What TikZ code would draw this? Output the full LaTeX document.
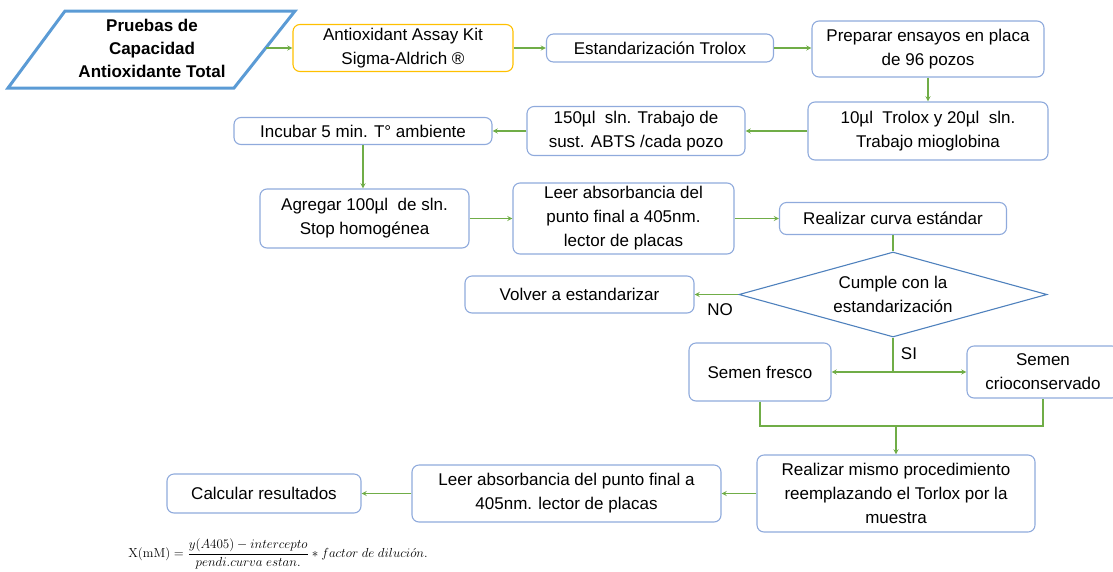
\documentclass[tikz,border=0pt]{standalone}
\usepackage{amsmath}
\usepackage[no-math]{fontspec}
\setmainfont{Liberation Sans}
\usetikzlibrary{shapes.geometric}
\definecolor{bordeazul}{RGB}{143,170,220}
\definecolor{rombazul}{RGB}{79,129,189}
\definecolor{verde}{RGB}{112,173,71}
\definecolor{amarillo}{RGB}{255,192,0}
\definecolor{titazul}{RGB}{91,155,213}

\begin{document}
\begin{tikzpicture}[>=stealth,x=1pt,y=-1pt,font=\fontsize{17}{24}\selectfont,
    caja/.style={draw=bordeazul,line width=1.1pt,rounded corners=7pt,align=center,inner sep=2pt},
    rombo/.style={diamond,draw=rombazul,line width=1.1pt,aspect=3.6,minimum width=308pt,minimum height=85pt,inner sep=0pt,align=center},
    flecha/.style={->,draw=verde,line width=1.3pt},
    linea/.style={draw=verde,line width=1.3pt}]
    \useasboundingbox (0,0) rectangle (1113,571);
    % titulo
    \draw[draw=titazul,line width=3pt] (65,11) -- (295,11) -- (234,88) -- (8,88) -- cycle;
    \node[font=\fontsize{17}{23}\selectfont\bfseries,align=center] (titulo) at (152,48) {Pruebas de\\Capacidad\\Antioxidante Total};
    \coordinate (tituloder) at (266,48);
    % cajas
    \node[caja,draw=amarillo,minimum width=220pt,minimum height=47pt] (kit) at (403,48) {Antioxidant Assay Kit\\Sigma-Aldrich ®};
    \node[caja,minimum width=227pt,minimum height=28pt] (estand) at (660,48) {Estandarización Trolox};
    \node[caja,minimum width=232pt,minimum height=56pt] (preparar) at (928,49) {Preparar ensayos en placa\\de 96 pozos};
    \node[caja,minimum width=240pt,minimum height=58pt] (trolox) at (928,131) {10µl~ Trolox y 20µl~ sln.\\Trabajo mioglobina};
    \node[caja,minimum width=218pt,minimum height=49pt] (abts) at (636,131) {150µl~ sln. Trabajo de\\sust. ABTS /cada pozo};
    \node[caja,minimum width=258pt,minimum height=27pt] (incubar) at (363,131) {Incubar 5 min. T° ambiente};
    \node[caja,minimum width=209pt,minimum height=59pt] (agregar) at (364.5,218.5) {Agregar 100µl~ de sln.\\Stop homogénea};
    \node[caja,minimum width=221pt,minimum height=71pt] (leer1) at (623.5,218.5) {Leer absorbancia del\\punto final a 405nm.\\lector de placas};
    \node[caja,minimum width=227pt,minimum height=32pt] (curva) at (893,218.5) {Realizar curva estándar};
    \node[rombo] (cumple) at (893,294.5) {Cumple con la\\estandarización};
    \node[caja,minimum width=229pt,minimum height=37pt] (volver) at (579.5,294.5) {Volver a estandarizar};
    \node[caja,minimum width=142pt,minimum height=58pt] (fresco) at (760,372) {Semen fresco};
    \node[caja,minimum width=152pt,minimum height=52pt] (crio) at (1043,372) {Semen\\crioconservado};
    \node[caja,minimum width=278pt,minimum height=77pt] (realizar) at (896,493.5) {Realizar mismo procedimiento\\reemplazando el Torlox por la\\muestra};
    \node[caja,minimum width=309pt,minimum height=57pt] (leer2) at (566.5,493.5) {Leer absorbancia del punto final a\\405nm. lector de placas};
    \node[caja,minimum width=194pt,minimum height=39pt] (calcular) at (264,493.5) {Calcular resultados};
    \node (no) at (720,310) {NO};
    \node (si) at (909,354) {SI};
    \node[font=\fontsize{12}{14}\selectfont,scale=1.09] (formula) at (278,554)
        {$\displaystyle\mathrm{X(mM)}=\frac{y(A405)-intercepto}{pendi.curva\ estan.}*factor\ de\ diluci\acute{o}n.$};
    % flechas
    \draw[flecha] (tituloder) -- (kit.west);
    \foreach \a/\b in {kit/estand,estand/preparar,agregar/leer1,leer1/curva}
        \draw[flecha] (\a.east) -- (\a.east -| \b.west);
    \foreach \a/\b in {trolox/abts,abts/incubar,cumple/volver,realizar/leer2,leer2/calcular}
        \draw[flecha] (\a.west) -- (\a.west -| \b.east);
    \draw[flecha] (preparar.south) -- (preparar.south |- trolox.north);
    \draw[flecha] (incubar.south) -- (incubar.south |- agregar.north);
    \draw[linea] (curva.south) -- (cumple.north);
    \draw[linea] (cumple.south) -- (cumple.south |- fresco.east) coordinate (bif);
    \draw[flecha] (bif) -- (fresco.east);
    \draw[flecha] (bif) -- (crio.west);
    \coordinate (union) at (896,426);
    \draw[linea] (fresco.south) |- (union) -| (crio.south);
    \draw[flecha] (union) -- (realizar.north);
\end{tikzpicture}
\end{document}
